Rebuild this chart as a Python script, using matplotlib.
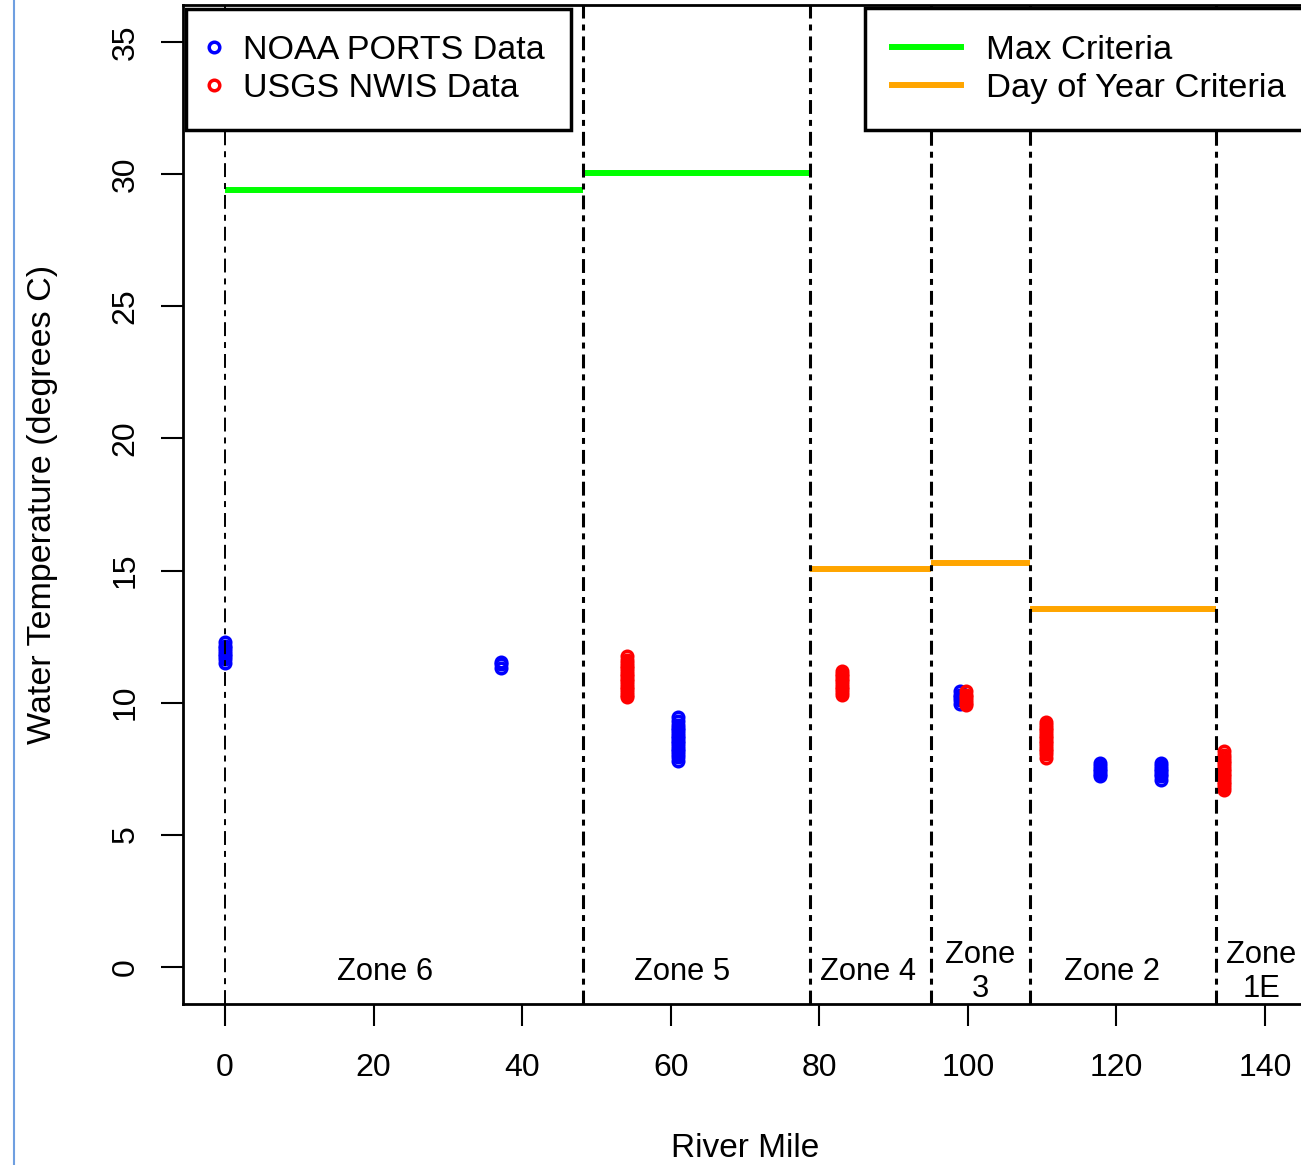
import matplotlib as m
m.use("Agg")
import matplotlib.pyplot as plt
from matplotlib.lines import Line2D

plt.rcParams['font.family'] = ['Liberation Sans', 'DejaVu Sans']
plt.rcParams['lines.scale_dashes'] = False

# Zone boundaries (river mile) and labels
zone_edges = [0.0, 48.2, 78.8, 95.0, 108.4, 133.4]
zone_names = ["Zone 6", "Zone 5", "Zone 4", "Zone\n3", "Zone 2", "Zone\n1E"]
zone_label_x = [21.6, 61.5, 86.5, 101.7, 119.4, 139.5]

# Criteria (degrees C): max for zones 6 and 5, day-of-year for zones 4, 3, 2
max_criteria = [29.4, 30.05]
doy_criteria = [15.05, 15.28, 13.54]

# NOAA PORTS stations
noaa_miles = [0.0, 37.1, 61.0, 99.0, 117.8, 126.0]
noaa_temps = [
  [11.5, 11.65, 11.75, 11.85, 11.95, 12.05, 12.15, 12.3],
  [11.3, 11.45, 11.55],
  [7.8, 7.95, 8.05, 8.15, 8.25, 8.35, 8.45, 8.55, 8.65, 8.75, 8.85, 8.95, 9.05, 9.15, 9.3, 9.45],
  [9.95, 10.1, 10.2, 10.3, 10.45],
  [7.2, 7.3, 7.4, 7.5, 7.6, 7.7],
  [7.05, 7.2, 7.3, 7.4, 7.5, 7.6, 7.7],
]

# USGS NWIS stations
usgs_miles = [54.1, 83.1, 99.7, 110.5, 134.5]
usgs_temps = [
  [10.2, 10.3, 10.4, 10.5, 10.6, 10.7, 10.8, 10.9, 11.0, 11.1, 11.2, 11.3, 11.4, 11.5, 11.6, 11.75],
  [10.3, 10.4, 10.5, 10.6, 10.7, 10.8, 10.9, 11.0, 11.1, 11.2],
  [9.9, 10.0, 10.1, 10.2, 10.3, 10.45],
  [7.9, 8.05, 8.15, 8.25, 8.35, 8.45, 8.55, 8.65, 8.75, 8.85, 8.95, 9.05, 9.15, 9.25],
  [6.7, 6.8, 6.9, 7.0, 7.1, 7.2, 7.3, 7.4, 7.5, 7.6, 7.7, 7.8, 7.9, 8.0, 8.15],
]

W, H = 1301, 1165
fig = plt.figure(figsize=(W / 100, H / 100), dpi=100)
# plot region runs past the right edge of the picture (cropped screenshot)
ax = fig.add_axes([183.4 / W, (H - 1003.6) / H, (1306.6 - 183.4) / W, (1003.6 - 5.4) / H])

def flatten(miles, temps):
  xs = [mi for mi, ts in zip(miles, temps) for _ in ts]
  ys = [t for ts in temps for t in ts]
  return xs, ys

nx, ny = flatten(noaa_miles, noaa_temps)
ux, uy = flatten(usgs_miles, usgs_temps)
noaa_pts, = ax.plot(nx, ny, 'o', ls='none', mfc='none', mec='blue', ms=7.6, mew=2.5, zorder=2)
usgs_pts, = ax.plot(ux, uy, 'o', ls='none', mfc='none', mec='red', ms=7.6, mew=2.5, zorder=2)

green = '#00ff00'
orange = '#ffa500'
ax.hlines(max_criteria, zone_edges[0:2], zone_edges[1:3], color=green, lw=4.3, capstyle='butt', zorder=2)
ax.hlines(doy_criteria, zone_edges[2:5], zone_edges[3:6], color=orange, lw=4.3, capstyle='butt', zorder=2)

dash = (0, (10, 4.3, 4.3, 4.3))
for i, e in enumerate(zone_edges):
  ax.axvline(e, color='black', lw=1.4 if i == 0 else 2.2, ls=dash, zorder=3)

for x, name in zip(zone_label_x, zone_names):
  ax.text(x, -0.2, name, ha='center', va='center', fontsize=22.2, linespacing=1.2)

ax.set_xlim(-5.6, 145.6)
ax.set_ylim(-1.4, 36.4)
ax.set_xticks(range(0, 141, 20))
ax.set_yticks(range(0, 36, 5))
ax.tick_params(axis='both', length=15.8, width=1.5, labelsize=23)
ax.tick_params(axis='x', pad=19.5)
ax.tick_params(axis='y', pad=15, labelrotation=90)
plt.setp(ax.get_yticklabels(), va='center')
for s in ax.spines.values():
  s.set_linewidth(2.0)

ax.set_xlabel("River Mile", fontsize=24, labelpad=36)
ax.set_ylabel("Water Temperature (degrees C)", fontsize=24.5, labelpad=38)

# Legends
leg1 = ax.legend([noaa_pts, usgs_pts], ["NOAA PORTS Data", "USGS NWIS Data"],
                 loc='upper left', bbox_to_anchor=(186 / W, 1 - 8.5 / H), bbox_transform=fig.transFigure,
                 borderaxespad=0, borderpad=0.77, handlelength=0.1, handletextpad=0.8,
                 labelspacing=0.2, numpoints=1, fontsize=24.5, fancybox=False, framealpha=1,
                 edgecolor='black')
leg1.get_frame().set_linewidth(2.5)
ax.add_artist(leg1)

crit_handles = [Line2D([], [], color=green, lw=4.3), Line2D([], [], color=orange, lw=4.3)]
leg2 = ax.legend(crit_handles, ["Max Criteria", "Day of Year Criteria"],
                 loc='upper left', bbox_to_anchor=(865.5 / W, 1 - 8 / H), bbox_transform=fig.transFigure,
                 borderaxespad=0, borderpad=0.77, handlelength=2.0, handletextpad=0.73,
                 labelspacing=0.2, fontsize=24.8, fancybox=False, framealpha=1,
                 edgecolor='black')
leg2.get_frame().set_linewidth(2.5)

# thin window border at the left of the screenshot
fig.add_artist(Line2D([13.5 / W, 13.5 / W], [0, 1], transform=fig.transFigure, color='#6f9fe0', lw=1.5))

fig.savefig("out.png", dpi=100)
